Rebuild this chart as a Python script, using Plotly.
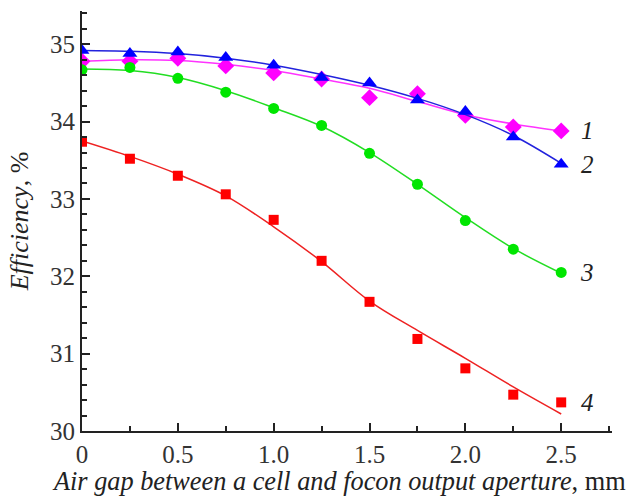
import plotly.graph_objects as go

x_pts = [0, 0.25, 0.5, 0.75, 1.0, 1.25, 1.5, 1.75, 2.0, 2.25, 2.5]

# measured points
s1 = [34.78, 34.78, 34.82, 34.72, 34.63, 34.55, 34.31, 34.36, 34.08, 33.93, 33.88]
s2 = [34.92, 34.88, 34.90, 34.83, 34.73, 34.57, 34.50, 34.28, 34.13, 33.80, 33.45]
s3 = [34.67, 34.70, 34.56, 34.38, 34.17, 33.95, 33.59, 33.19, 32.72, 32.35, 32.05]
s4 = [33.74, 33.52, 33.30, 33.06, 32.73, 32.20, 31.67, 31.19, 30.81, 30.47, 30.37]

# fitted curves
f1 = [34.78, 34.80, 34.79, 34.74, 34.66, 34.55, 34.43, 34.26, 34.09, 33.97, 33.88]
f2 = [34.92, 34.91, 34.88, 34.82, 34.73, 34.61, 34.47, 34.30, 34.09, 33.82, 33.46]
f3 = [34.68, 34.66, 34.57, 34.40, 34.18, 33.94, 33.60, 33.19, 32.76, 32.36, 32.04]
f4 = [33.75, 33.55, 33.32, 33.04, 32.64, 32.19, 31.68, 31.30, 30.94, 30.57, 30.22]

labels = ["1", "2", "3", "4"]
x_ticks = [0, 0.5, 1.0, 1.5, 2.0, 2.5]
x_tick_text = ["0", "0.5", "1.0", "1.5", "2.0", "2.5"]
y_ticks = [30, 31, 32, 33, 34, 35]

series = [
    (s1, f1, "#ff00ff", "diamond", 13),
    (s2, f2, "#0000ff", "triangle-up", 13),
    (s3, f3, "#00e600", "circle", 11),
    (s4, f4, "#ff0000", "square", 10),
]
line_cols = ["#ff33ff", "#2222dd", "#22dd22", "#ee2222"]
label_y = [33.88, 33.45, 32.05, 30.37]

FONT = "Liberation Serif, Times New Roman, serif"

fig = go.Figure()
for (pts, fit, col, sym, sz), lc in zip(series, line_cols):
    fig.add_trace(go.Scatter(x=x_pts, y=fit, mode="lines",
                             line=dict(color=lc, width=1.5, shape="spline"),
                             showlegend=False, hoverinfo="skip"))
    fig.add_trace(go.Scatter(x=x_pts, y=pts, mode="markers",
                             marker=dict(color=col, symbol=sym, size=sz, line=dict(width=0)),
                             showlegend=False))

for lab, ly in zip(labels, label_y):
    fig.add_annotation(x=x_pts[-1], y=ly, xref="x", yref="y", text="<i>" + lab + "</i>",
                       showarrow=False, xshift=26, font=dict(family=FONT, size=25, color="#222"))

# x-axis title as annotation so it can be right-aligned like the reference
fig.add_annotation(x=1, y=0, xref="paper", yref="paper", xanchor="right", yanchor="top",
                   xshift=16, yshift=-34, showarrow=False,
                   text="<i>Air gap between a cell and focon output aperture</i>, mm",
                   font=dict(family=FONT, size=26.3, color="#222"))

axis_common = dict(showline=True, linecolor="#222", linewidth=2, ticks="inside",
                   tickcolor="#222", tickwidth=2, ticklen=8, showgrid=False, zeroline=False,
                   tickfont=dict(family=FONT, size=25, color="#333"))

fig.update_xaxes(range=[0, 2.765], tickvals=x_ticks, ticktext=x_tick_text,
                 minor=dict(dtick=0.25, tick0=0, ticks="inside", ticklen=5, tickcolor="#222", tickwidth=2),
                 **axis_common)
fig.update_yaxes(range=[30, 35.43], tickvals=y_ticks,
                 minor=dict(dtick=0.2, tick0=30, ticks="inside", ticklen=5, tickcolor="#222", tickwidth=2),
                 title=dict(text="<i>Efficiency</i>, %",
                            font=dict(family=FONT, size=26, color="#222"), standoff=14),
                 **axis_common)

fig.update_layout(width=632, height=499, margin=dict(l=82, r=20, t=11, b=68),
                  plot_bgcolor="white", paper_bgcolor="white")

fig.write_html("out.html")
